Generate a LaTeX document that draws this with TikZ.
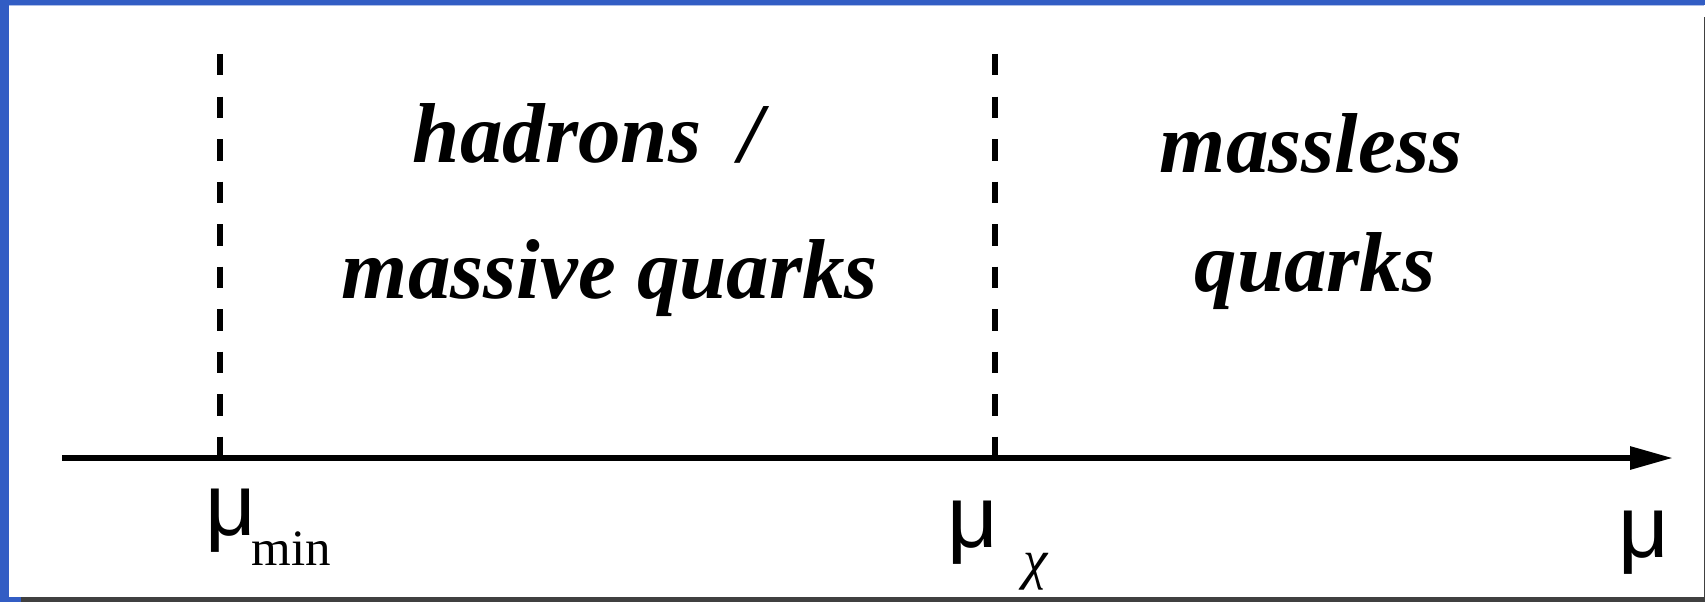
\documentclass[tikz,border=0pt]{standalone}
\usepackage{fontspec}
\setmainfont{Liberation Serif}
\newfontfamily\musans{Liberation Sans}
\usetikzlibrary{arrows.meta}
\definecolor{frameblue}{RGB}{50,93,196}
\definecolor{framegray}{RGB}{64,64,64}
\begin{document}
\begin{tikzpicture}[x=1pt,y=-1pt,
  region/.style={font=\fontsize{85}{85}\selectfont\bfseries\itshape, inner sep=0pt, anchor=base},
  axlabel/.style={font=\musans\fontsize{88}{88}\selectfont, inner sep=0pt, anchor=base west},
  divider/.style={line width=6pt, dash pattern=on 21.5pt off 21pt},
  axisline/.style={line width=6pt, -{Triangle[length=43pt,width=22pt]}}]
\useasboundingbox (0,0) rectangle (1705,602);
\fill[white] (0,0) rectangle (1705,602);
% frame
\fill[frameblue] (0,0) rectangle (1705,5);
\fill[frameblue!40] (9,5) rectangle (1704,6);
\fill[frameblue] (0,0) rectangle (9,602);
\fill[frameblue] (0,597) rectangle (21,602);
\fill[framegray] (21,597) rectangle (1705,602);
\fill[framegray] (1704,17) rectangle (1705,602);
% coordinates
\coordinate (axstart) at (62,458);
\coordinate (axend) at (1673,458);
\coordinate (d1top) at (220,54);
\coordinate (d1bot) at (220,458);
\coordinate (d2top) at (995,54);
\coordinate (d2bot) at (995,458);
% dividers and axis
\draw[divider] (d1top) -- (d1bot);
\draw[divider] (d2top) -- (d2bot);
\draw[axisline] (axstart) -- (axend);
% region labels
\node[region] (hadrons) at (588,162) {hadrons\hspace{0.45em}/};
\node[region] (massive) at (610,298) {massive quarks};
\node[region] (massless) at (1311,172) {massless};
\node[region] (quarks) at (1315,291) {quarks};
% axis labels
\node[axlabel] (mumin) at (205,535) {μ\kern-4pt\raisebox{-30pt}{\rmfamily\fontsize{51}{51}\selectfont min}};
\node[axlabel] (muchi) at (947,547) {μ\kern26pt\raisebox{-31pt}{\rmfamily\itshape\fontsize{55}{55}\selectfont χ}};
\node[axlabel] (mu) at (1618,557) {μ};
\end{tikzpicture}
\end{document}
